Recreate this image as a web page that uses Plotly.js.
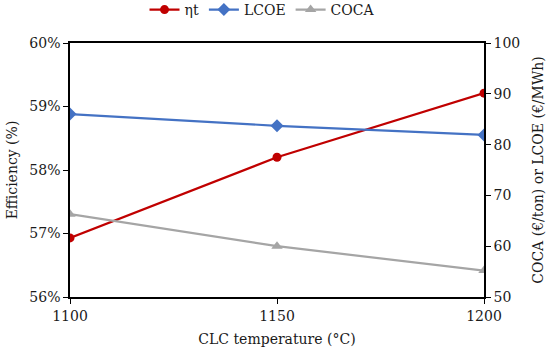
<!DOCTYPE html>
<html><head><meta charset="utf-8">
<script src="https://cdn.plot.ly/plotly-3.0.1.min.js"></script>
<style>html,body{margin:0;padding:0;background:#fff}</style>
</head><body>
<div id="chart" style="width:550px;height:360px"></div>
<script>
const temps = [1100, 1150, 1200];
const etaT = [0.5693, 0.5820, 0.5921];
const lcoe = [86.0, 83.7, 81.9];
const coca = [66.3, 60.0, 55.2];
const seriesNames = ['ηt', 'LCOE', 'COCA'];

const font = {family: '"DejaVu Serif", "Liberation Serif", serif', size: 14, color: '#1a1a1a'};
const traces = [
  {x: temps, y: etaT, name: seriesNames[0], type: 'scatter', mode: 'lines+markers', yaxis: 'y',
   line: {color: '#C00000', width: 2.2}, marker: {symbol: 'circle', size: 9, color: '#C00000'}},
  {x: temps, y: lcoe, name: seriesNames[1], type: 'scatter', mode: 'lines+markers', yaxis: 'y2',
   line: {color: '#4472C4', width: 2.2}, marker: {symbol: 'diamond', size: 10, color: '#4472C4'}},
  {x: temps, y: coca, name: seriesNames[2], type: 'scatter', mode: 'lines+markers', yaxis: 'y2',
   line: {color: '#A5A5A5', width: 2.2}, marker: {symbol: 'triangle-up', size: 10, color: '#A5A5A5'}}
];
const layout = {
  width: 550, height: 360,
  margin: {l: 70, r: 66, t: 43, b: 63, autoexpand: false},
  paper_bgcolor: '#fff', plot_bgcolor: '#fff',
  font: font,
  showlegend: true,
  legend: {orientation: 'h', x: 0.465, xanchor: 'center', y: 1.13, yanchor: 'middle', font: font, traceorder: 'normal', itemwidth: 30},
  xaxis: {range: [1100, 1200], tickvals: temps, ticks: 'outside', ticklen: 5, tickcolor: '#000',
    showline: true, linecolor: '#000', linewidth: 1.5, mirror: true, showgrid: false, zeroline: false,
    title: {text: 'CLC temperature (°C)', font: font, standoff: 12}},
  yaxis: {range: [0.56, 0.60], dtick: 0.01, tickformat: '.0%', ticks: 'outside', ticklen: 5, tickcolor: '#000',
    showline: true, linecolor: '#000', linewidth: 1.5, showgrid: false, zeroline: false,
    title: {text: 'Efficiency (%)', font: font, standoff: 8}},
  yaxis2: {range: [50, 100], dtick: 10, overlaying: 'y', side: 'right', ticks: 'outside', ticklen: 5, tickcolor: '#000',
    showline: true, linecolor: '#000', linewidth: 1.5, showgrid: false, zeroline: false,
    title: {text: 'COCA (€/ton) or LCOE (€/MWh)', font: font, standoff: 14}}
};
Plotly.newPlot('chart', traces, layout, {displayModeBar: false});
</script>
</body></html>
